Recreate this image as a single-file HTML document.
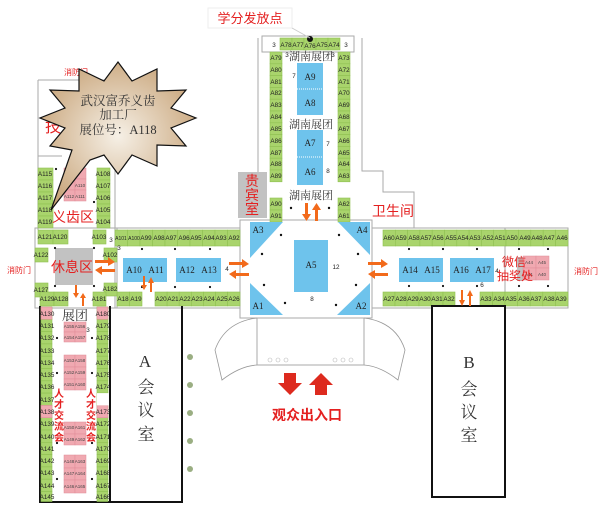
<!DOCTYPE html>
<html><head><meta charset="utf-8"><style>
html,body{margin:0;padding:0;background:#fff;width:600px;height:507px;overflow:hidden}
svg{display:block}
.g{fill:#a9d46c;stroke:#8fc052;stroke-width:.6}
.p{fill:#f0a9b1;stroke:#e08c98;stroke-width:.5}
.b{fill:#6ec3ec}
.t{font-family:"Liberation Sans",sans-serif;font-size:6.3px;fill:#222;text-anchor:middle}
.tp{font-family:"Liberation Sans",sans-serif;font-size:4.5px;fill:#444;text-anchor:middle}
.r{font-family:"Liberation Sans","Noto Sans CJK SC",sans-serif;fill:#e42020;text-anchor:middle}
.k{font-family:"Liberation Serif","Noto Serif CJK SC",serif;fill:#333;text-anchor:middle}
.bt{font-family:"Liberation Serif",serif;font-size:9px;fill:#222;text-anchor:middle}
.ln{stroke:#aaa;stroke-width:1;fill:none}
.d{fill:#111}
.o{fill:#f26a1b}
</style></head><body>
<svg width="600" height="507" viewBox="0 0 600 507" xmlns="http://www.w3.org/2000/svg">
<defs><radialGradient id="sg" cx="50%" cy="50%" r="60%"><stop offset="0" stop-color="#f6f0e6"/><stop offset="1" stop-color="#c6a175"/></radialGradient></defs>

<!-- outlines -->
<path class="ln" d="M258 38V172M362 38V171H383V192H414V228"/>
<path class="ln" d="M38 80H115V230M38 80V230M38 156H62"/>
<rect x="35" y="228" width="82" height="80" class="ln"/>
<rect x="115" y="228" width="125" height="80" class="ln"/>
<rect x="240" y="220" width="132" height="98" class="ln"/>
<rect x="372" y="228" width="196" height="80" class="ln"/>
<line x1="505" y1="228" x2="505" y2="308" class="ln"/>
<rect x="262" y="36" width="92" height="16" fill="#fff" stroke="#aaa"/>

<!-- top center booths -->
<text x="274" y="47" class="t">3</text><text x="346" y="47" class="t">3</text>
<g><rect class="g" x="280" y="38" width="12" height="12"/><rect class="g" x="292" y="38" width="12" height="12"/><rect class="g" x="304" y="38" width="12" height="12"/><rect class="g" x="316" y="38" width="12" height="12"/><rect class="g" x="328" y="38" width="12" height="12"/></g>
<text x="286" y="47" class="t">A78</text><text x="298" y="47" class="t">A77</text><text x="310" y="48" class="t">A76</text><text x="322" y="47" class="t">A75</text><text x="334" y="47" class="t">A74</text>
<circle cx="310" cy="39" r="3" class="d"/>
<rect x="208" y="8" width="84" height="20" fill="#fff" stroke="#eee"/>
<text x="250" y="23" class="r" font-size="13">学分发放点</text>
<line x1="292" y1="28" x2="310" y2="38" stroke="#ccc"/>

<!-- center left/right columns -->
<g id="cl">
<rect class="g" x="270" y="52" width="12" height="11.8"/><rect class="g" x="270" y="63.8" width="12" height="11.8"/><rect class="g" x="270" y="75.6" width="12" height="11.8"/><rect class="g" x="270" y="87.4" width="12" height="11.8"/><rect class="g" x="270" y="99.2" width="12" height="11.8"/><rect class="g" x="270" y="111" width="12" height="11.8"/><rect class="g" x="270" y="122.8" width="12" height="11.8"/><rect class="g" x="270" y="134.6" width="12" height="11.8"/><rect class="g" x="270" y="146.4" width="12" height="11.8"/><rect class="g" x="270" y="158.2" width="12" height="11.8"/><rect class="g" x="270" y="170" width="12" height="11.8"/>
</g>
<use href="#cl" x="68"/>
<g class="t"><text x="276" y="60">A79</text><text x="276" y="72">A80</text><text x="276" y="84">A81</text><text x="276" y="95">A82</text><text x="276" y="107">A83</text><text x="276" y="119">A84</text><text x="276" y="131">A85</text><text x="276" y="143">A86</text><text x="276" y="155">A87</text><text x="276" y="166">A88</text><text x="276" y="178">A89</text>
<text x="344" y="60">A73</text><text x="344" y="72">A72</text><text x="344" y="84">A71</text><text x="344" y="95">A70</text><text x="344" y="107">A69</text><text x="344" y="119">A68</text><text x="344" y="131">A67</text><text x="344" y="143">A66</text><text x="344" y="155">A65</text><text x="344" y="166">A64</text><text x="344" y="178">A63</text></g>
<rect class="b" x="297" y="63" width="26" height="52"/><line x1="297" y1="89" x2="323" y2="89" stroke="#fff" stroke-dasharray="1 1"/>
<rect class="b" x="297" y="130" width="26" height="55"/><line x1="297" y1="157" x2="323" y2="157" stroke="#fff" stroke-dasharray="1 1"/>
<g class="bt"><text x="310" y="80">A9</text><text x="310" y="106">A8</text><text x="310" y="146">A7</text><text x="310" y="175">A6</text></g>
<g class="t" font-size="7"><text x="294" y="78">7</text><text x="328" y="146">7</text><text x="328" y="173">8</text><text x="287" y="57">3</text><text x="333" y="57">3</text></g>
<g class="k" font-size="11"><text x="311" y="60">湖南展团</text><text x="311" y="128">湖南展团</text><text x="311" y="199">湖南展团</text></g>
<rect class="g" x="270" y="198" width="12" height="12"/><rect class="g" x="270" y="210" width="12" height="12"/><rect class="g" x="338" y="198" width="12" height="12"/><rect class="g" x="338" y="210" width="12" height="12"/>
<g class="t"><text x="276" y="206">A90</text><text x="276" y="218">A91</text><text x="344" y="206">A62</text><text x="344" y="218">A61</text></g>
<rect x="238" y="172" width="29" height="46" fill="#c2c2c2"/>
<text x="252" y="186" class="r" font-size="14">贵</text><text x="252" y="200" class="r" font-size="14">宾</text><text x="252" y="214" class="r" font-size="14">室</text>
<text x="393" y="216" class="r" font-size="14">卫生间</text>

<!-- center hall -->
<polygon class="b" points="250,222 283,222 250,258"/><polygon class="b" points="338,222 370,222 370,255"/>
<polygon class="b" points="250,283 250,315 283,315"/><polygon class="b" points="370,283 370,315 337,315"/>
<rect class="b" x="294" y="240" width="34" height="52"/>
<g class="bt" font-family="Liberation Sans" font-size="9"><text x="258" y="233">A3</text><text x="362" y="233">A4</text><text x="258" y="309">A1</text><text x="361" y="309">A2</text><text x="311" y="268">A5</text></g>
<g class="t" font-size="7"><text x="336" y="269">12</text><text x="312" y="301">8</text></g>
<g class="d"><circle cx="291" cy="208" r="1.2"/><circle cx="329" cy="208" r="1.2"/><circle cx="281" cy="235" r="1.2"/><circle cx="339" cy="235" r="1.2"/><circle cx="262" cy="254" r="1.2"/><circle cx="358" cy="254" r="1.2"/><circle cx="264" cy="285" r="1.2"/><circle cx="356" cy="285" r="1.2"/><circle cx="285" cy="303" r="1.2"/><circle cx="336" cy="305" r="1.2"/></g>

<!-- entrance -->
<path class="ln" d="M257 318V365H364V318"/>
<path d="M257 318Q225 322 215 350L222 380Q240 366 257 365M364 318Q396 322 405 350L398 380Q380 366 364 365" fill="none" stroke="#999" stroke-width=".8"/>
<g fill="none" stroke="#bbb" stroke-width=".6"><circle cx="270" cy="360" r="2"/><circle cx="278" cy="360" r="2"/><circle cx="286" cy="360" r="2"/><circle cx="335" cy="360" r="2"/><circle cx="343" cy="360" r="2"/><circle cx="351" cy="360" r="2"/></g>
<polygon points="284,373 296,373 296,383 302,383 290,395 278,383 284,383" fill="#dd2a1e"/>
<polygon points="315,395 327,395 327,385 333,385 321,373 309,385 315,385" fill="#dd2a1e"/>
<text x="307" y="420" class="r" font-size="14" font-weight="bold">观众出入口</text>

<!-- left band booths -->
<g id="lt"><rect class="g" x="115" y="230" width="12.5" height="16"/><rect class="g" x="127.5" y="230" width="12.5" height="16"/><rect class="g" x="140" y="230" width="12.5" height="16"/><rect class="g" x="152.5" y="230" width="12.5" height="16"/><rect class="g" x="165" y="230" width="12.5" height="16"/><rect class="g" x="177.5" y="230" width="12.5" height="16"/><rect class="g" x="190" y="230" width="12.5" height="16"/><rect class="g" x="202.5" y="230" width="12.5" height="16"/><rect class="g" x="215" y="230" width="12.5" height="16"/><rect class="g" x="227.5" y="230" width="12.5" height="16"/></g>
<g class="t"><text x="121" y="240" font-size="5">A101</text><text x="134" y="240" font-size="5">A100</text><text x="146" y="240">A99</text><text x="159" y="240">A98</text><text x="171" y="240">A97</text><text x="184" y="240">A96</text><text x="196" y="240">A95</text><text x="209" y="240">A94</text><text x="221" y="240">A93</text><text x="234" y="240">A92</text></g>
<g><rect class="g" x="117" y="292" width="12.5" height="14"/><rect class="g" x="129.5" y="292" width="12.5" height="14"/><rect class="g" x="155" y="292" width="12.1" height="14"/><rect class="g" x="167.1" y="292" width="12.1" height="14"/><rect class="g" x="179.2" y="292" width="12.1" height="14"/><rect class="g" x="191.3" y="292" width="12.1" height="14"/><rect class="g" x="203.4" y="292" width="12.1" height="14"/><rect class="g" x="215.5" y="292" width="12.1" height="14"/><rect class="g" x="227.6" y="292" width="12.4" height="14"/></g>
<g class="t"><text x="123" y="301">A18</text><text x="136" y="301">A19</text><text x="161" y="301">A20</text><text x="173" y="301">A21</text><text x="185" y="301">A22</text><text x="197" y="301">A23</text><text x="209" y="301">A24</text><text x="222" y="301">A25</text><text x="234" y="301">A26</text></g>
<rect class="b" x="123" y="258" width="44" height="24"/><rect class="b" x="176" y="258" width="45" height="24"/>
<g class="bt" font-size="8"><text x="134" y="273">A10</text><text x="156" y="273">A11</text><text x="187" y="273">A12</text><text x="209" y="273">A13</text></g>
<g class="t" font-size="7"><text x="227" y="271">4</text><text x="119" y="250">3</text></g>
<g class="d"><circle cx="142" cy="249" r="1.1"/><circle cx="175" cy="249" r="1.1"/><circle cx="210" cy="249" r="1.1"/><circle cx="142" cy="287" r="1.1"/><circle cx="175" cy="287" r="1.1"/><circle cx="210" cy="287" r="1.1"/></g>

<!-- right band booths -->
<g><rect class="g" x="383" y="230" width="12.3" height="16"/><rect class="g" x="395.3" y="230" width="12.3" height="16"/><rect class="g" x="407.6" y="230" width="12.3" height="16"/><rect class="g" x="419.9" y="230" width="12.3" height="16"/><rect class="g" x="432.2" y="230" width="12.3" height="16"/><rect class="g" x="444.5" y="230" width="12.3" height="16"/><rect class="g" x="456.8" y="230" width="12.3" height="16"/><rect class="g" x="469.1" y="230" width="12.3" height="16"/><rect class="g" x="481.4" y="230" width="12.3" height="16"/><rect class="g" x="493.7" y="230" width="12.3" height="16"/><rect class="g" x="506" y="230" width="12.4" height="16"/><rect class="g" x="518.4" y="230" width="12.4" height="16"/><rect class="g" x="530.8" y="230" width="12.4" height="16"/><rect class="g" x="543.2" y="230" width="12.4" height="16"/><rect class="g" x="555.6" y="230" width="12.4" height="16"/></g>
<g class="t"><text x="389" y="240">A60</text><text x="401" y="240">A59</text><text x="414" y="240">A58</text><text x="426" y="240">A57</text><text x="438" y="240">A56</text><text x="451" y="240">A55</text><text x="463" y="240">A54</text><text x="475" y="240">A53</text><text x="488" y="240">A52</text><text x="500" y="240">A51</text><text x="512" y="240">A50</text><text x="525" y="240">A49</text><text x="537" y="240">A48</text><text x="549" y="240">A47</text><text x="562" y="240">A46</text></g>
<g><rect class="g" x="383" y="292" width="12" height="14"/><rect class="g" x="395" y="292" width="12" height="14"/><rect class="g" x="407" y="292" width="12" height="14"/><rect class="g" x="419" y="292" width="12" height="14"/><rect class="g" x="431" y="292" width="12" height="14"/><rect class="g" x="443" y="292" width="12" height="14"/><rect class="g" x="480" y="292" width="12.5" height="14"/><rect class="g" x="492.5" y="292" width="12.5" height="14"/><rect class="g" x="505" y="292" width="12.6" height="14"/><rect class="g" x="517.6" y="292" width="12.6" height="14"/><rect class="g" x="530.2" y="292" width="12.6" height="14"/><rect class="g" x="542.8" y="292" width="12.6" height="14"/><rect class="g" x="555.4" y="292" width="12.6" height="14"/></g>
<g class="t"><text x="389" y="301">A27</text><text x="401" y="301">A28</text><text x="413" y="301">A29</text><text x="425" y="301">A30</text><text x="437" y="301">A31</text><text x="449" y="301">A32</text><text x="486" y="301">A33</text><text x="499" y="301">A34</text><text x="511" y="301">A35</text><text x="524" y="301">A36</text><text x="536" y="301">A37</text><text x="549" y="301">A38</text><text x="561" y="301">A39</text></g>
<rect class="b" x="399" y="258" width="44" height="24"/><rect class="b" x="450" y="258" width="44" height="24"/>
<g class="bt" font-size="8"><text x="410" y="273">A14</text><text x="432" y="273">A15</text><text x="461" y="273">A16</text><text x="483" y="273">A17</text></g>
<g class="t" font-size="7"><text x="497" y="273">4</text><text x="482" y="287">6</text></g>
<rect x="517" y="257" width="6" height="24" fill="#c2c2c2"/>
<rect class="p" x="523" y="256" width="13" height="12"/><rect class="p" x="536" y="256" width="13" height="12"/><rect class="p" x="523" y="268" width="13" height="12"/><rect class="p" x="536" y="268" width="13" height="12"/>
<g class="tp"><text x="529" y="264">A44</text><text x="542" y="264">A45</text><text x="529" y="276">A41</text><text x="542" y="276">A40</text></g>
<text x="514" y="266" class="r" font-size="12">微信</text><text x="515" y="280" class="r" font-size="12">抽奖处</text>
<text x="586" y="274" class="r" font-size="8">消防门</text>
<g class="d"><circle cx="409" cy="249" r="1.1"/><circle cx="443" cy="249" r="1.1"/><circle cx="477" cy="249" r="1.1"/><circle cx="519" cy="249" r="1.1"/><circle cx="548" cy="249" r="1.1"/><circle cx="409" cy="286" r="1.1"/><circle cx="443" cy="286" r="1.1"/><circle cx="477" cy="286" r="1.1"/><circle cx="519" cy="286" r="1.1"/><circle cx="548" cy="286" r="1.1"/></g>

<!-- B room -->
<rect x="432" y="306" width="73" height="191" fill="#fff" stroke="#111" stroke-width="2"/>
<g class="k" font-size="17"><text x="469" y="368">B</text><text x="469" y="395">会</text><text x="469" y="418">议</text><text x="469" y="441">室</text></g>

<!-- left section top -->
<text x="76" y="75" class="r" font-size="8">消防门</text>
<text x="53" y="132" class="r" font-size="16">技</text>
<g><rect class="g" x="38" y="168" width="15" height="12"/><rect class="g" x="38" y="180" width="15" height="12"/><rect class="g" x="38" y="192" width="15" height="12"/><rect class="g" x="38" y="204" width="15" height="12"/><rect class="g" x="38" y="216" width="15" height="12"/>
<rect class="g" x="97" y="168" width="13" height="12"/><rect class="g" x="97" y="180" width="13" height="12"/><rect class="g" x="97" y="192" width="13" height="12"/><rect class="g" x="97" y="204" width="13" height="12"/><rect class="g" x="97" y="216" width="13" height="12"/></g>
<g class="t" font-size="5.5"><text x="45" y="176">A115</text><text x="45" y="188">A116</text><text x="45" y="200">A117</text><text x="45" y="212">A118</text><text x="45" y="224">A119</text><text x="103" y="176">A108</text><text x="103" y="188">A107</text><text x="103" y="200">A106</text><text x="103" y="212">A105</text><text x="103" y="224">A104</text></g>
<rect class="p" x="64" y="168" width="11" height="11"/><rect class="p" x="75" y="168" width="11" height="11"/><rect class="p" x="64" y="179" width="11" height="11"/><rect class="p" x="75" y="179" width="11" height="11"/><rect class="p" x="64" y="190" width="11" height="11"/><rect class="p" x="75" y="190" width="11" height="11"/>
<g class="tp"><text x="69" y="198">A112</text><text x="80" y="198">A111</text><text x="80" y="187">A110</text></g>
<circle cx="56" cy="169" r="1.1" class="d"/><circle cx="94" cy="202" r="1.1" class="d"/>
<text x="73" y="222" class="r" font-size="14">义齿区</text>
<g><rect class="g" x="38" y="230" width="15" height="14"/><rect class="g" x="53" y="230" width="15" height="14"/><rect class="g" x="93" y="230" width="13" height="14"/><rect class="g" x="35" y="248" width="13" height="14"/><rect class="g" x="104" y="248" width="13" height="14"/><rect class="g" x="35" y="283" width="13" height="14"/><rect class="g" x="104" y="283" width="13" height="13"/><rect class="g" x="40" y="292" width="14" height="14"/><rect class="g" x="54" y="292" width="14" height="14"/><rect class="g" x="93" y="292" width="13" height="14"/></g>
<g class="t" font-size="5"><text x="45" y="239">A121</text><text x="60" y="239">A120</text><text x="99" y="239">A103</text><text x="41" y="257">A122</text><text x="110" y="257">A102</text><text x="41" y="292">A127</text><text x="110" y="291">A182</text><text x="47" y="301">A129</text><text x="61" y="301">A128</text><text x="99" y="301">A181</text></g>
<text x="111" y="242" class="t" font-size="7">3</text>
<rect x="55" y="248" width="38" height="37" fill="#c2c2c2"/>
<text x="72" y="272" class="r" font-size="14">休息区</text>
<text x="19" y="273" class="r" font-size="8">消防门</text>
<g class="d"><circle cx="55" cy="248" r="1.1"/><circle cx="94" cy="248" r="1.1"/><circle cx="55" cy="286" r="1.1"/><circle cx="94" cy="286" r="1.1"/></g>

<!-- left hall lower -->
<path d="M40 306V502H182V306M110 306V502" fill="none" stroke="#111" stroke-width="2"/>
<g id="lc"><rect class="g" x="41" y="307" width="11" height="12.3"/><rect class="g" x="41" y="319.3" width="11" height="12.3"/><rect class="g" x="41" y="331.6" width="11" height="12.3"/><rect class="g" x="41" y="343.9" width="11" height="12.3"/><rect class="g" x="41" y="356.2" width="11" height="12.3"/><rect class="g" x="41" y="368.5" width="11" height="12.3"/><rect class="g" x="41" y="380.8" width="11" height="12.3"/><rect class="g" x="41" y="393.1" width="11" height="12.3"/><rect class="g" x="41" y="405.4" width="11" height="12.3"/><rect class="g" x="41" y="417.7" width="11" height="12.3"/><rect class="g" x="41" y="430" width="11" height="12.3"/><rect class="g" x="41" y="442.3" width="11" height="12.3"/><rect class="g" x="41" y="454.6" width="11" height="12.3"/><rect class="g" x="41" y="466.9" width="11" height="12.3"/><rect class="g" x="41" y="479.2" width="11" height="12.3"/><rect class="g" x="41" y="491.5" width="11" height="10"/></g>
<use href="#lc" x="56"/>
<rect class="p" x="41" y="307" width="11" height="12.3"/><rect class="p" x="41" y="405.4" width="11" height="12.3"/><rect class="p" x="97" y="307" width="11" height="12.3"/><rect class="p" x="97" y="405.4" width="11" height="12.3"/>
<rect x="97" y="393.1" width="12" height="12.3" fill="#fff"/>
<g class="t" font-size="5"><text x="47" y="316">A130</text><text x="47" y="328">A131</text><text x="47" y="340">A132</text><text x="47" y="353">A133</text><text x="47" y="365">A134</text><text x="47" y="377">A135</text><text x="47" y="389">A136</text><text x="47" y="402">A137</text><text x="47" y="414">A138</text><text x="47" y="426">A139</text><text x="47" y="439">A140</text><text x="47" y="451">A141</text><text x="47" y="463">A142</text><text x="47" y="475">A143</text><text x="47" y="488">A144</text><text x="47" y="499">A145</text>
<text x="103" y="316">A180</text><text x="103" y="328">A179</text><text x="103" y="340">A178</text><text x="103" y="353">A177</text><text x="103" y="365">A176</text><text x="103" y="377">A175</text><text x="103" y="389">A174</text><text x="103" y="414">A173</text><text x="103" y="426">A172</text><text x="103" y="439">A171</text><text x="103" y="451">A170</text><text x="103" y="463">A169</text><text x="103" y="475">A168</text><text x="103" y="488">A167</text><text x="103" y="499">A166</text></g>
<g>
<rect class="p" x="64" y="322" width="11" height="10"/><rect class="p" x="75" y="322" width="11" height="10"/><rect class="p" x="64" y="332" width="11" height="10"/><rect class="p" x="75" y="332" width="11" height="10"/>
<rect class="p" x="64" y="355" width="11" height="12"/><rect class="p" x="75" y="355" width="11" height="12"/><rect class="p" x="64" y="367" width="11" height="12"/><rect class="p" x="75" y="367" width="11" height="12"/><rect class="p" x="64" y="379" width="11" height="11"/><rect class="p" x="75" y="379" width="11" height="11"/>
<rect class="p" x="64" y="422" width="11" height="12"/><rect class="p" x="75" y="422" width="11" height="12"/><rect class="p" x="64" y="434" width="11" height="11"/><rect class="p" x="75" y="434" width="11" height="11"/>
<rect class="p" x="64" y="455" width="11" height="13"/><rect class="p" x="75" y="455" width="11" height="13"/><rect class="p" x="64" y="468" width="11" height="12"/><rect class="p" x="75" y="468" width="11" height="12"/><rect class="p" x="64" y="480" width="11" height="13"/><rect class="p" x="75" y="480" width="11" height="13"/></g>
<g class="tp" font-size="4"><text x="69" y="328">A155</text><text x="80" y="328">A156</text><text x="69" y="339">A154</text><text x="80" y="339">A157</text><text x="69" y="362">A153</text><text x="80" y="362">A158</text><text x="69" y="374">A152</text><text x="80" y="374">A159</text><text x="69" y="386">A151</text><text x="80" y="386">A160</text><text x="69" y="429">A150</text><text x="80" y="429">A161</text><text x="69" y="441">A149</text><text x="80" y="441">A162</text><text x="69" y="463">A148</text><text x="80" y="463">A163</text><text x="69" y="475">A147</text><text x="80" y="475">A164</text><text x="69" y="488">A146</text><text x="80" y="488">A165</text></g>
<text x="75" y="320" class="k" font-size="13">展团</text>
<text x="88" y="332" class="t" font-size="5">3</text>
<g class="d"><circle cx="57" cy="338" r="1.1"/><circle cx="92" cy="338" r="1.1"/><circle cx="57" cy="373" r="1.1"/><circle cx="92" cy="373" r="1.1"/><circle cx="57" cy="443" r="1.1"/><circle cx="92" cy="443" r="1.1"/><circle cx="57" cy="479" r="1.1"/><circle cx="92" cy="479" r="1.1"/></g>
<g class="r" font-size="10" font-weight="bold"><text x="59" y="397">人</text><text x="59" y="408">才</text><text x="59" y="419">交</text><text x="59" y="430">流</text><text x="59" y="441">会</text><text x="91" y="397">人</text><text x="91" y="408">才</text><text x="91" y="419">交</text><text x="91" y="430">流</text><text x="91" y="441">会</text></g>
<g class="k" font-size="17"><text x="145" y="367">A</text><text x="146" y="393">会</text><text x="146" y="416">议</text><text x="146" y="440">室</text></g>
<g fill="#9aae82"><circle cx="190" cy="357" r="3"/><circle cx="190" cy="385" r="3"/><circle cx="190" cy="413" r="3"/><circle cx="190" cy="441" r="3"/><circle cx="190" cy="469" r="3"/></g>

<!-- orange arrows -->
<g class="o">
<polygon points="95,260 108,260 108,257 115,262 108,266 108,263 95,263"/>
<polygon points="115,272 102,272 102,275 95,270 102,266 102,269 115,269"/>
<polygon points="229,262 242,262 242,259 249,264 242,268 242,265 229,265"/>
<polygon points="249,276 236,276 236,279 229,274 236,270 236,273 249,273"/>
<polygon points="368,262 381,262 381,259 388,264 381,268 381,265 368,265"/>
<polygon points="388,276 375,276 375,279 368,274 375,270 375,273 388,273"/>
<polygon points="305,203 305,214 302,214 306.5,221 311,214 308,214 308,203"/>
<polygon points="315,221 315,210 312,210 316.5,203 321,210 318,210 318,221"/>
<polygon points="143,290 143,281 141,281 144,276 147,281 145,281 145,290" transform="rotate(180 144 283)"/>
<polygon points="150,292 150,283 148,283 151,277 154,283 152,283 152,292"/>
<polygon points="75,285 75,293 73,293 76,298 79,293 77,293 77,285"/>
<polygon points="82,306 82,298 80,298 83,293 86,298 84,298 84,306"/>
<polygon points="461,290 461,300 459,300 462,306 465,300 463,300 463,290"/>
<polygon points="469,306 469,296 467,296 470,290 473,296 471,296 471,306"/>
</g>

<!-- starburst -->
<polygon points="196,118 171,128 186,146 157,145 157,166 132,155 118,174 104,155 90,160 51,210 72,150 50,146 65,128 40,118 65,108 50,90 79,91 79,69 104,81 118,62 132,81 157,69 157,91 186,90 171,108" fill="url(#sg)" stroke="#111" stroke-width="1.2"/>
<g class="k" font-size="12.5" fill="#222"><text x="118" y="105">武汉富乔义齿</text><text x="118" y="119">加工厂</text><text x="118" y="134">展位号：A118</text></g>
</svg>
</body></html>
